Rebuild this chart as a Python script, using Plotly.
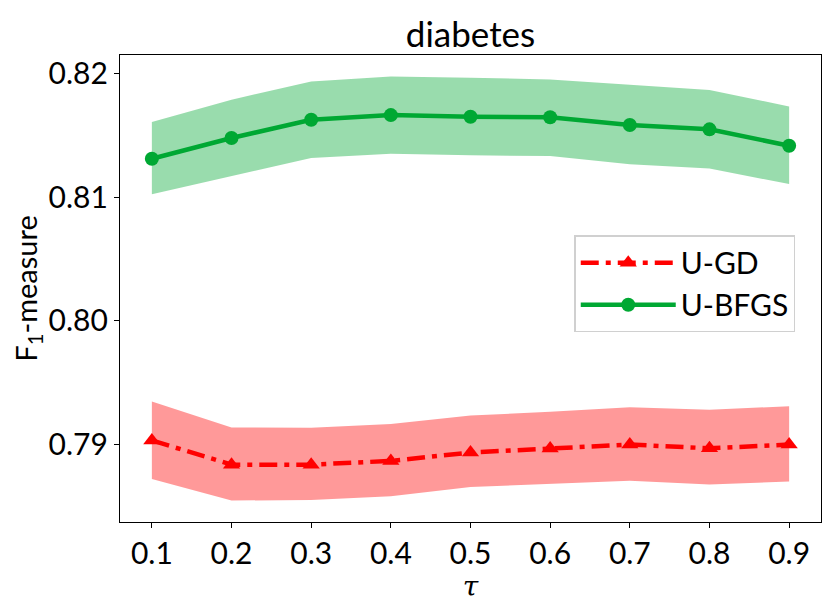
import plotly.graph_objects as go

# tau values and F1 scores
tau = [0.1, 0.2, 0.3, 0.4, 0.5, 0.6, 0.7, 0.8, 0.9]

gd_mean = [0.79035, 0.78840, 0.78840, 0.78870, 0.78938, 0.78970, 0.79002, 0.78972, 0.79002]
gd_upper = [0.79350, 0.79140, 0.79137, 0.79167, 0.79236, 0.79266, 0.79304, 0.79282, 0.79312]
gd_lower = [0.78725, 0.78550, 0.78555, 0.78584, 0.78660, 0.78683, 0.78710, 0.78680, 0.78704]

bfgs_mean = [0.81309, 0.81476, 0.81623, 0.81661, 0.81648, 0.81643, 0.81581, 0.81546, 0.81414]
bfgs_upper = [0.81605, 0.81785, 0.81933, 0.81973, 0.81962, 0.81949, 0.81906, 0.81863, 0.81731]
bfgs_lower = [0.81022, 0.81167, 0.81315, 0.81349, 0.81336, 0.81331, 0.81264, 0.81229, 0.81105]

red = "rgb(255,0,0)"
green = "rgb(0,168,51)"
font = "Lato, Liberation Sans, DejaVu Sans, sans-serif"

fig = go.Figure()

# shaded bands first
for up, lo, fc in [(gd_upper, gd_lower, "rgba(255,0,0,0.4)"),
                   (bfgs_upper, bfgs_lower, "rgba(0,168,51,0.4)")]:
    fig.add_trace(go.Scatter(x=tau, y=up, mode="lines", line=dict(width=0),
                             showlegend=False, hoverinfo="skip"))
    fig.add_trace(go.Scatter(x=tau, y=lo, mode="lines", line=dict(width=0),
                             fill="tonexty", fillcolor=fc,
                             showlegend=False, hoverinfo="skip"))

fig.add_trace(go.Scatter(
    x=tau, y=gd_mean, mode="lines+markers", name="U-GD",
    line=dict(color=red, width=4.5, dash="18px,7px,5px,7px"),
    marker=dict(symbol="triangle-up", size=15, color=red)
))
fig.add_trace(go.Scatter(
    x=tau, y=bfgs_mean, mode="lines+markers", name="U-BFGS",
    line=dict(color=green, width=4.5),
    marker=dict(symbol="circle", size=14, color=green)
))

axis_common = dict(
    showline=True, linecolor="black", linewidth=1.2, mirror=True,
    ticks="outside", ticklen=5, tickcolor="black",
    showgrid=False, zeroline=False, automargin=False,
    tickfont=dict(family=font, size=30, color="black"),
)

fig.update_layout(
    width=831, height=602,
    margin=dict(l=112, r=18, t=47, b=88, autoexpand=False),
    plot_bgcolor="white", paper_bgcolor="white",
    title=dict(text="diabetes", x=0.5566, xanchor="center", y=0.955, yanchor="middle",
               font=dict(family=font, size=35, color="black"), automargin=False),
    xaxis=dict(axis_common, range=[0.06, 0.94],
               tickvals=tau, ticktext=[f"{t:.1f}" for t in tau],
               title=dict(text="<i>τ</i>", standoff=4,
                          font=dict(family="DejaVu Serif, serif", size=28, color="black"))),
    yaxis=dict(axis_common, range=[0.78377, 0.82146],
               tickvals=[0.79, 0.80, 0.81, 0.82], ticktext=["0.79", "0.80", "0.81", "0.82"],
               title=dict(text="F<sub>1</sub>-measure", standoff=6,
                          font=dict(family=font, size=29, color="black"))),
    legend=dict(x=0.648, y=0.614, xanchor="left", yanchor="top",
                traceorder="normal",
                bgcolor="white", bordercolor="#d0d0d0", borderwidth=1.5,
                font=dict(family=font, size=30, color="black"),
                itemwidth=95),
)

fig.write_html("out.html")
